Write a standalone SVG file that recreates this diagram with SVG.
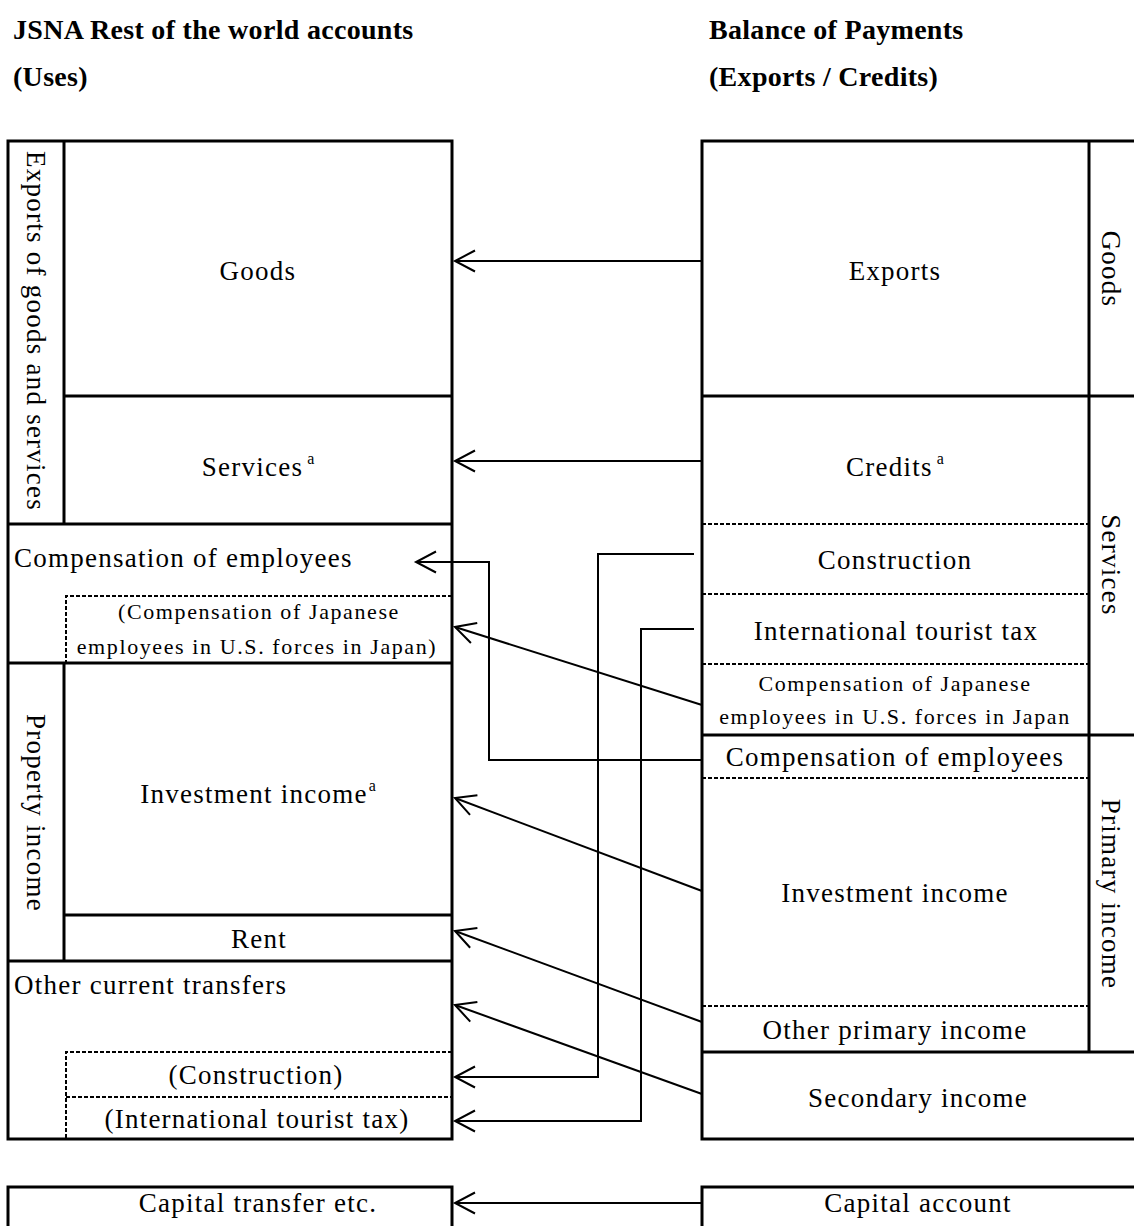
<svg xmlns="http://www.w3.org/2000/svg" width="1134" height="1226" viewBox="0 0 1134 1226">
<style>
text{font-family:"Liberation Serif","Times New Roman",serif;fill:#000;}
.t{font-size:27px;letter-spacing:1.25px;}
.s{font-size:22px;letter-spacing:1.6px;}
.h{font-size:28px;font-weight:bold;letter-spacing:0.3px;}
.c{text-anchor:middle;}
.sup{font-size:16px;letter-spacing:0;}
.box{fill:none;stroke:#000;stroke-width:3;}
.ln{stroke:#000;stroke-width:3;fill:none;}
.dl{stroke:#000;stroke-width:2;fill:none;stroke-dasharray:4 2;}
.cn{stroke:#000;stroke-width:2;fill:none;marker-end:url(#ah);}
</style>
<defs>
<marker id="ah" viewBox="-23 -13 26 26" refX="0" refY="0" markerWidth="26" markerHeight="26" markerUnits="userSpaceOnUse" orient="auto">
<path d="M-20,-10.5 L0,0 L-20,10.5" fill="none" stroke="#000" stroke-width="2"/>
</marker>
</defs>
<rect width="1134" height="1226" fill="#fff"/>

<g id="titles">
<text class="h" x="13" y="39">JSNA Rest of the world accounts</text>
<text class="h" x="13" y="86">(Uses)</text>
<text class="h" x="709" y="39">Balance of Payments</text>
<text class="h" x="709" y="86">(Exports / Credits)</text>
</g>

<g id="left-frame">
<rect class="box" x="8" y="141" width="444" height="998"/>
<line class="ln" x1="64" y1="141" x2="64" y2="524"/>
<line class="ln" x1="64" y1="396" x2="452" y2="396"/>
<line class="ln" x1="8" y1="524" x2="452" y2="524"/>
<line class="ln" x1="8" y1="663" x2="452" y2="663"/>
<line class="ln" x1="64" y1="663" x2="64" y2="961"/>
<line class="ln" x1="64" y1="915" x2="452" y2="915"/>
<line class="ln" x1="8" y1="961" x2="452" y2="961"/>
</g>

<g id="l-exports-gs"><text class="t c" transform="translate(36,331) rotate(90)" y="9">Exports of goods and services</text></g>
<g id="l-goods"><text class="t c" x="258" y="280">Goods</text></g>
<g id="l-services"><text class="t c" x="258" y="476">Services<tspan class="sup" dx="4" dy="-12">a</tspan></text></g>
<g id="l-comp"><text class="t" x="14" y="567">Compensation of employees</text></g>
<g id="l-comp-jp">
<path class="dl" d="M452,596 H66 V663"/>
<text class="s c" x="259" y="619">(Compensation of Japanese</text>
<text class="s c" x="257" y="654">employees in U.S. forces in Japan)</text>
</g>
<g id="l-property"><text class="t c" transform="translate(36,813) rotate(90)" y="9">Property income</text></g>
<g id="l-invest"><text class="t c" x="258" y="803">Investment income<tspan class="sup" dx="1" dy="-12">a</tspan></text></g>
<g id="l-rent"><text class="t c" x="259" y="948">Rent</text></g>
<g id="l-other"><text class="t" x="14" y="994">Other current transfers</text></g>
<g id="l-constr">
<path class="dl" d="M452,1052 H66 V1139"/>
<text class="t c" x="256" y="1084">(Construction)</text>
</g>
<g id="l-tourist">
<line class="dl" x1="66" y1="1097" x2="452" y2="1097"/>
<text class="t c" x="257" y="1128">(International tourist tax)</text>
</g>
<g id="l-capital">
<path class="ln" d="M8,1230 V1187 H452 V1230"/>
<text class="t c" x="258" y="1212">Capital transfer etc.</text>
</g>

<g id="right-frame">
<path class="ln" d="M1140,141 H702 V1139 H1140"/>
<line class="ln" x1="1089" y1="141" x2="1089" y2="1052"/>
<line class="ln" x1="702" y1="396" x2="1140" y2="396"/>
<line class="ln" x1="702" y1="735" x2="1140" y2="735"/>
<line class="ln" x1="702" y1="1052" x2="1140" y2="1052"/>
<line class="dl" x1="702" y1="524" x2="1089" y2="524"/>
<line class="dl" x1="702" y1="594" x2="1089" y2="594"/>
<line class="dl" x1="702" y1="664" x2="1089" y2="664"/>
<line class="dl" x1="702" y1="778" x2="1089" y2="778"/>
<line class="dl" x1="702" y1="1006" x2="1089" y2="1006"/>
</g>

<g id="r-goods-label"><text class="t c" transform="translate(1111,269) rotate(90)" y="9">Goods</text></g>
<g id="r-services-label"><text class="t c" transform="translate(1111,565) rotate(90)" y="9">Services</text></g>
<g id="r-primary-label"><text class="t c" transform="translate(1111,894) rotate(90)" y="9">Primary income</text></g>
<g id="r-exports"><text class="t c" x="895" y="280">Exports</text></g>
<g id="r-credits"><text class="t c" x="895" y="476">Credits<tspan class="sup" dx="4" dy="-12">a</tspan></text></g>
<g id="r-constr"><text class="t c" x="895" y="569">Construction</text></g>
<g id="r-tourist"><text class="t c" x="896" y="640">International tourist tax</text></g>
<g id="r-comp-jp">
<text class="s c" x="895" y="691">Compensation of Japanese</text>
<text class="s c" x="895" y="724">employees in U.S. forces in Japan</text>
</g>
<g id="r-comp"><text class="t c" x="895" y="766">Compensation of employees</text></g>
<g id="r-invest"><text class="t c" x="895" y="902">Investment income</text></g>
<g id="r-other"><text class="t c" x="895" y="1039">Other primary income</text></g>
<g id="r-secondary"><text class="t c" x="918" y="1107">Secondary income</text></g>
<g id="r-capital">
<path class="ln" d="M702,1230 V1187 H1140"/>
<text class="t c" x="918" y="1212">Capital account</text>
</g>

<g id="connectors">
<path class="cn" d="M702,261 H455"/>
<path class="cn" d="M702,461 H455"/>
<path class="cn" d="M694,554 H598 V1077 H455"/>
<path class="cn" d="M694,629 H641 V1121 H455"/>
<path class="cn" d="M702,760 H489 V562 H416"/>
<path class="cn" d="M702,705 L455,627"/>
<path class="cn" d="M702,891 L455,798"/>
<path class="cn" d="M702,1022 L455,931"/>
<path class="cn" d="M702,1094 L455,1005"/>
<path class="cn" d="M702,1203 H455"/>
</g>
</svg>
